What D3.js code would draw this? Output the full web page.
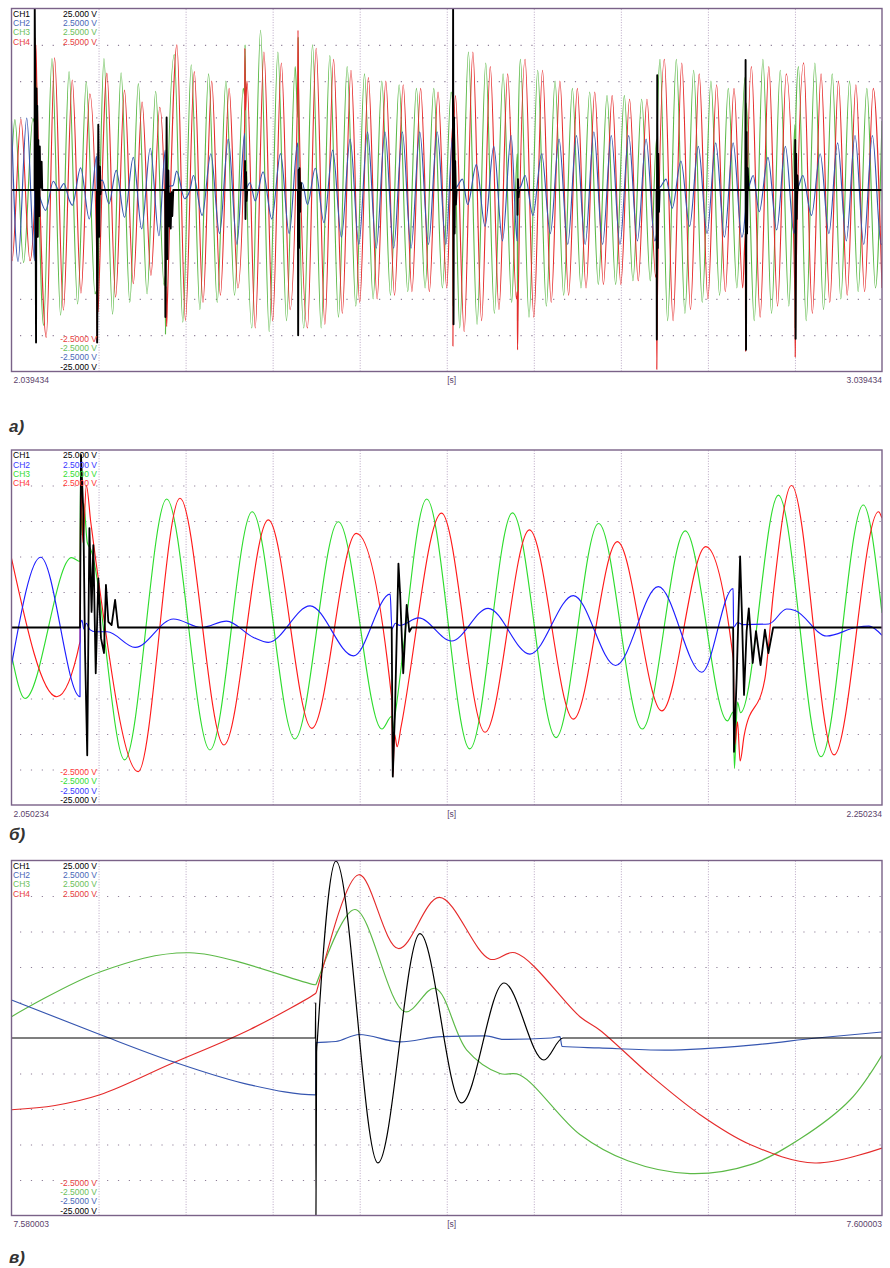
<!DOCTYPE html>
<html>
<head>
<meta charset="utf-8">
<script src="https://cdn.jsdelivr.net/npm/d3@7"></script>
<style>
  body { margin: 0; background: #fff; }
  svg { display: block; }
  text { font-family: "Liberation Sans", Arial, sans-serif; }
</style>
</head>
<body>
<svg id="chart" width="890" height="1268"></svg>
<script>
// ---- labels ----
const startLabels = ["2.039434", "2.050234", "7.580003"];
const endLabels = ["3.039434", "2.250234", "7.600003"];
const spansMs = [1000, 200, 20];
const panelLetters = ["\u0430)", "\u0431)", "\u0432)"];
const chNames = ["CH1", "CH2", "CH3", "CH4"];
const topScale = ["25.000 V", "2.5000 V", "2.5000 V", "2.5000 V"];
const bottomScale = ["-2.5000 V", "-2.5000 V", "-2.5000 V", "-25.000 V"]; // CH4, CH3, CH2, CH1

// ---- panel a: 2.039434 .. 3.039434 s, [ms from start, V] ----
const a_ch1 = [[0,0],[26.5,0],[26.7,25],[27.2,16.3],[27.7,-3.4],[28.2,-21],[28.7,14],[29.2,2.2],[29.6,11.6],[30.2,-6.45],[30.8,6.9],[31.4,-1.5],[32.1,-3.6],[32.5,6],[33.1,0.8],[33.8,0.35],[34.6,3.9],[35.3,0],
  [98.1,0],[98.4,-21],[98.9,-11.9],[99.7,9],[100.1,4.6],[100.8,-6.45],[101.6,3.2],[102.2,-0.6],[102.8,0],
  [176.6,0],[176.8,-17.5],[177.4,-7.2],[178.2,10],[178.6,2.2],[179.1,-9.5],[179.7,-0.5],[180.2,2.7],[181.1,-5],[181.9,-0.5],[182.9,-5.3],[183.9,-0.3],[184.7,-3.6],[185.8,0],
  [268,0],[268.3,4],[268.8,-4],[269.4,2.5],[270,-1.5],[270.8,0],
  [329,0],[329.3,-20],[329.8,2.75],[330.3,-8],[330.9,3],[331.6,-3],[332.4,1],[333.2,0],
  [507,0],[507.3,25],[507.8,-18.5],[508.4,10],[509,-6],[509.7,4],[510.5,-2],[511.4,0],
  [581,0],[581.3,-3.4],[581.8,1.5],[582.5,-1],[583.2,0],
  [741,0],[741.3,-20.6],[741.8,15.8],[742.4,-8],[743,5],[743.8,-3],[744.6,0],
  [843,0],[843.3,17.9],[843.8,-22],[844.4,8],[845,-6],[845.8,3],[846.6,0],
  [900,0],[900.3,6.9],[900.8,-20.5],[901.4,5],[902,-4],[902.8,2],[903.6,0],[1000,0]];
const a_ch2 = [[0,0.95],[7.5,-0.985],[17.5,0.99],[26.5,-0.975],[26.6,0.04],[27.5,0],[30,-0.03],[39.2,-0.28],[48,0.12],[54.5,0],[60.2,0.09],[66.4,-0.14],[69.8,-0.21],[79.4,0.305],[89.4,-0.4],[97.8,0.47],[98.2,-0.02],[100,0.06],[104.3,0.135],[111.9,-0.19],[120.3,0.27],[129.9,-0.375],[139.9,0.45],[149.6,-0.535],[159.4,0.575],[169.4,-0.63],[176.6,0.55],[176.7,0],[180,0.05],[185.5,0.06],[189.7,0.26],[198.9,-0.12],[205,0],
  [209,0.2],[219,-0.35],[229,0.5],[239,-0.6],[249,0.7],[259,-0.75],[267.9,0.78],[268.2,0],[274,0.1],[280,-0.15],[289,0.25],[299,-0.4],[309,0.5],[319,-0.6],[328.8,0.65],[329.2,0],[334,0.1],[340,-0.2],[349,0.3],[359,-0.45],[369,0.55],[379,-0.65],[389,0.7],[399,-0.75],[409,0.8],[419,-0.8],[429,0.8],[439,-0.8],[449,0.8],[459,-0.8],[469,0.8],[479,-0.75],[489,0.8],[499,-0.75],[506.8,0.75],[507.2,0],[512,0.05],[518,0.15],[524,-0.2],[534,0.35],[544,-0.5],[554,0.6],[564,-0.7],[574,0.75],[580.8,-0.7],[581.2,0],[585,0.05],[590,0.2],[599,-0.35],[609,0.5],[619,-0.6],[629,0.7],[639,-0.75],[649,0.75],[659,-0.75],[669,0.8],[679,-0.75],[689,0.75],[699,-0.75],[709,0.75],[719,-0.7],[729,0.7],[739,-0.7],[741.1,-0.6],[741.3,0],[746,0.05],[752,0.15],[759,-0.25],[769,0.4],[779,-0.5],[789,0.6],[799,-0.6],[809,0.65],[819,-0.65],[829,0.65],[839,-0.65],[842.9,-0.3],[843.2,0],[847,0.05],[852,0.2],[859,-0.3],[869,0.45],[879,-0.55],[889,0.6],[899,-0.6],[900.1,-0.5],[900.3,0],[904,0.05],[909,0.2],[919,-0.35],[929,0.5],[939,-0.6],[949,0.65],[959,-0.7],[969,0.75],[979,-0.75],[989,0.75],[999,-0.75],[1000,-0.74]];
const a_ch3 = [[0,0.33],[3.9,0.97],[13.9,-1.0],[24.6,0.985],[26.5,0.93],[26.7,2.1],[27.4,1.3],[28,1.75],[29.2,1.1],[36.8,-1.865],[46.5,1.81],[56.4,-1.725],[66.1,1.63],[75.9,-1.57],[85.9,1.49],[95.9,-1.43],[98.1,-1.38],[98.4,-1.5],[99,-1.3],[106.2,1.81],[116.1,-1.71],[125.9,1.615],[135.9,-1.55],[145.7,1.465],[155.7,-1.43],[165.6,1.36],[175.3,-1.315],[176.6,-1.19],[176.9,-1.985],[177.6,-1.05],
  [187,1.865],[196.8,-1.82],[206.5,1.725],[216.4,-1.65],[226.4,1.6],[236.3,-1.55],[246.3,1.5],[256.2,-1.45],[266.2,1.4],[268,1.3],[268.3,2.0],[269,1.2],[276.1,-1.9],[286.1,2.2],[296,-1.95],[306,1.9],[315.9,-1.8],[325.9,1.7],[329,1.0],[329.3,2.1],[330,0.6],[335.8,-1.9],[345.8,2.0],[355.7,-1.9],[365.7,1.85],[375.6,-1.75],[385.6,1.7],[395.5,-1.6],[405.5,1.6],[415.4,-1.5],[425.4,1.5],[435.3,-1.45],[445.3,1.45],[455.2,-1.4],[465.2,1.4],[475.1,-1.35],[485.1,1.4],[495,-1.35],[505,1.35],[507,1.2],[507.3,-1.6],[508,1.0],[514.9,-1.9],[524.9,1.9],[534.8,-1.85],[544.8,1.75],[554.7,-1.7],[564.7,1.6],[574.6,-1.55],[581,0.5],[581.3,-1.8],[582,0.7],[584.6,1.8],[594.5,-1.75],[604.5,1.65],[614.4,-1.6],[624.4,1.5],[634.3,-1.45],[644.3,1.4],[654.2,-1.35],[664.2,1.35],[674.1,-1.3],[684.1,1.3],[694,-1.3],[704,1.3],[713.9,-1.25],[723.9,1.25],[733.8,-1.25],[741,0.7],[741.3,-2.0],[742,0.9],[745,1.8],[753.7,-1.8],[763.7,1.8],[773.6,-1.7],[783.6,1.65],[793.5,-1.55],[803.5,1.5],[813.4,-1.45],[823.4,1.4],[833.3,-1.35],[842.5,1.55],[843,1.5],[843.3,-1.9],[844,1.2],[853.2,-1.8],[863.2,1.8],[873.1,-1.7],[883.1,1.65],[893,-1.6],[900,0.9],[900.3,-1.9],[901,1.0],[904,1.7],[912.9,-1.8],[922.9,1.75],[932.8,-1.65],[942.8,1.6],[952.7,-1.5],[962.7,1.5],[972.6,-1.4],[982.6,1.4],[992.5,-1.35],[1000,0.95]];
const a_ch4 = [[0,-0.96],[0.6,-0.975],[10.8,0.975],[21.2,-0.975],[26.5,-0.2],[26.7,2.1],[27.2,1.2],[28,2.0],[29,1.49],[30.2,0.93],[39.9,-2.03],[49.5,1.82],[59.6,-1.655],[69.8,1.515],[79.8,-1.42],[90,1.325],[98.1,-1.0],[98.4,-2.1],[98.8,-1.5],[99.4,-1.68],[100.3,-1.4],[109.6,1.61],[119.6,-1.475],[129.8,1.375],[139.9,-1.29],[150,1.21],[160.2,-1.175],[170.3,1.14],[176.6,-0.43],[177,-1.65],[177.6,-1.33],[178.2,-1.88],[179.1,-1.53],
  [190,2.0],[199.8,-1.795],[210,1.63],[220,-1.55],[230,1.5],[240,-1.45],[250,1.4],[260,-1.35],[267.8,0.9],[268.1,1.95],[268.8,1.1],[270.5,1.5],[280,-1.9],[290,1.9],[300,-1.8],[310,1.75],[320,-1.65],[328.8,1.5],[329.1,2.2],[329.8,1.4],[340,-1.9],[350,1.95],[360,-1.85],[370,1.8],[380,-1.7],[390,1.65],[400,-1.55],[410,1.55],[420,-1.5],[430,1.5],[440,-1.45],[450,1.45],[460,-1.4],[470,1.4],[480,-1.4],[490,1.35],[500,-1.35],[506.8,0.9],[507.1,-2.15],[507.8,0.5],[510,1.3],[520,-1.95],[530,1.9],[540,-1.8],[550,1.7],[560,-1.65],[570,1.6],[580,-1.5],[581,-1.4],[581.3,-2.2],[582,-1.6],[590,1.8],[600,-1.75],[610,1.65],[620,-1.55],[630,1.5],[640,-1.45],[650,1.4],[660,-1.35],[670,1.35],[680,-1.3],[690,1.3],[700,-1.3],[710,1.25],[720,-1.25],[730,1.25],[740,-1.2],[741,-1.15],[741.3,-2.47],[742,-1.5],[750,1.8],[760,-1.8],[770,1.75],[780,-1.65],[790,1.6],[800,-1.5],[810,1.45],[820,-1.4],[830,1.4],[840,-1.35],[843,-0.6],[843.3,-2.22],[844,-1.0],[850,1.7],[860,-1.75],[870,1.7],[880,-1.6],[890,1.6],[900,-1.5],[900.3,-2.3],[901,-1.4],[910,1.75],[920,-1.7],[930,1.6],[940,-1.55],[950,1.5],[960,-1.45],[970,1.45],[980,-1.4],[990,1.4],[1000,-1.35]];

// ---- panel b: 2.050234 .. 2.250234 s ----
const b_ch1 = [[0,0],[15.74,0],[15.97,24.3],[16.5,16.3],[16.9,-3.4],[17.4,-18],[17.9,14],[18.4,2.2],[18.8,11.6],[19.35,-6.45],[19.95,6.9],[20.56,-1.5],[21.25,-3.6],[21.7,6],[22.25,0.8],[23,0.35],[23.8,3.9],[24.5,0],
  [87.35,0],[87.6,-21],[88.1,-11.9],[88.9,9],[89.3,4.6],[90,-6.45],[90.8,3.2],[91.4,-0.6],[91.95,0],
  [165.8,0],[166,-17.5],[166.6,-7.2],[167.4,10],[167.8,2.2],[168.3,-9.5],[168.9,-0.5],[169.4,2.7],[170.3,-5],[171.05,-0.5],[172.1,-5.3],[173.1,-0.3],[173.9,-3.6],[175,0],[200,0]];
const b_ch2 = [[0,-0.53],[6.7,0.99],[15.74,-0.975],[15.78,0.04],[16.2,0.1],[16.6,-0.02],[17.2,0.06],[18,-0.03],[19.3,-0.06],[22,-0.06],[28.4,-0.28],[37.2,0.12],[43.7,0],[49.4,0.09],[55.6,-0.14],[59,-0.21],[68.6,0.305],[78.6,-0.4],[87,0.47],[87.4,-0.02],[88.2,0.06],[89.2,0.03],[93.5,0.135],[101.1,-0.19],[109.5,0.27],[119.1,-0.375],[129.1,0.45],[138.8,-0.535],[148.6,0.575],[158.6,-0.63],[165.8,0.55],[165.9,0],[166.8,0.07],[168,0.04],[174,0.05],[178.1,0.26],[180,0.24],[187.3,-0.12],[194,0],[197,0.02],[200,-0.11]];
const b_ch3 = [[0,-0.385],[3.1,-1.0],[13.8,0.985],[15.74,0.93],[15.85,2.1],[16.2,1.3],[16.6,1.75],[17.4,1.2],[18.2,1.1],[26,-1.865],[35.66,1.81],[45.6,-1.725],[55.3,1.63],[65.1,-1.57],[75.1,1.49],[85.1,-1.43],[87.35,-1.25],[87.6,-1.45],[88.2,-1.2],[95.4,1.81],[105.3,-1.71],[115.1,1.615],[125.1,-1.55],[134.9,1.465],[144.9,-1.43],[154.8,1.36],[164.5,-1.315],[165.8,-1.19],[166.1,-1.985],[166.8,-1.05],[167.5,-1.2],[176.2,1.865],[186,-1.82],[195.7,1.725],[200,0.205]];
const b_ch4 = [[0,0.975],[10.4,-0.975],[15.74,-0.2],[15.9,2.1],[16.4,1.2],[17.2,2.0],[18.2,1.49],[19.4,0.93],[29.1,-2.03],[38.7,1.82],[48.8,-1.655],[59,1.515],[69,-1.42],[79.2,1.325],[87.35,-1.0],[87.6,-2.1],[88,-1.5],[88.6,-1.68],[89.5,-1.4],[98.8,1.61],[108.8,-1.475],[119,1.375],[129.1,-1.29],[139.2,1.21],[149.4,-1.175],[159.5,1.14],[165.8,-0.43],[166.2,-1.65],[166.8,-1.33],[167.4,-1.88],[168.3,-1.53],[173.1,-0.72],[175,0.46],[179.2,2.0],[189,-1.795],[199.2,1.63],[200,1.54]];

// ---- panel c: 7.580003 .. 7.600003 s ----
const c_ch1 = [[0,0],[6.98,0],[6.99,5],[6.995,-25],[7.01,-2],[7.03,0],[7.455,24.9],[8.42,-17.6],[9.385,14.7],[10.34,-9.15],[11.315,7.75],[12.234,-3.1],[12.67,0],[20,0]];
const c_ch2 = [[0,0.535],[2.03,0.05],[3.74,-0.34],[5.48,-0.66],[6.99,-0.8],[7.0,-0.065],[7.45,-0.05],[7.99,0.05],[8.92,-0.055],[9.88,0.02],[10.9,0.03],[11.3,-0.02],[12.4,0],[12.6,0.02],[12.65,-0.12],[13.5,-0.14],[15,-0.17],[17,-0.1],[18.5,0],[20,0.085]];
const c_ch3 = [[0,0.3],[2.03,0.93],[4.1,1.2],[6.99,0.75],[7.0,0.76],[7.89,1.81],[9.04,0.37],[9.73,0.7],[10.46,-0.17],[11.22,-0.5],[11.68,-0.52],[13.06,-1.36],[14.16,-1.73],[15.59,-1.91],[17,-1.78],[18.12,-1.42],[19.27,-0.87],[20,-0.24]];
const c_ch4 = [[0,-1.01],[1.0,-0.95],[2.03,-0.8],[3.64,-0.37],[5.48,0.12],[6.99,0.63],[7.0,0.64],[7.98,2.3],[8.89,1.26],[9.83,1.98],[10.99,1.11],[11.57,1.2],[13.06,0.3],[13.52,0.11],[14.67,-0.52],[15.82,-1.08],[16.97,-1.5],[18.46,-1.76],[20,-1.55]];

const panelData = [[a_ch1, a_ch2, a_ch3, a_ch4], [b_ch1, b_ch2, b_ch3, b_ch4], [c_ch1, c_ch2, c_ch3, c_ch4]];

// ---- look ----
const L = 11.5, R = 882;
const panelTops = [8.5, 450, 860.5];
const panelBottoms = [371.5, 805, 1215.5];
const letterY = [432, 840, 1263];
const softColors = ["#000000", "#3656b0", "#5cb947", "#e52b2b"];
const brightColors = ["#000000", "#1e1eff", "#2edc2e", "#ff1a1a"];
const softLabel = ["#000000", "#4a68b8", "#6cc05a", "#e84040"];
const brightLabel = ["#000000", "#3838ff", "#33dd33", "#ff3838"];
const blackWidth = [1.9, 1.8, 1.2];
const frameColor = "#7a6288";
const textColor = "#5b3f6b";

const svg = d3.select("#chart");

function drawPanel(i) {
    let top = panelTops[i], bottom = panelBottoms[i];
    let traceColors = i == 1 ? brightColors : softColors;
    let labelColors = i == 1 ? brightLabel : softLabel;

    let x = d3.scaleLinear().domain([0, spansMs[i]]).range([L, R]);
    let yV = d3.scaleLinear().domain([-2.5, 2.5]).range([bottom, top]);
    let y1 = d3.scaleLinear().domain([-25, 25]).range([bottom, top]);

    let g = svg.append("g");

    g.append("clipPath").attr("id", "clip" + i)
        .append("rect")
        .attr("x", L).attr("y", top)
        .attr("width", R - L).attr("height", bottom - top);

    //Vertical grid, one line per division
    g.append("g")
        .attr("transform", "translate(0," + bottom + ")")
        .call(d3.axisBottom(x)
            .tickValues(d3.range(1, 10).map(k => spansMs[i] * k / 10))
            .tickSize(-(bottom - top))
            .tickFormat(""))
        .call(a => a.select(".domain").remove())
        .selectAll("line")
        .attr("stroke", "#b9a6c3")
        .attr("stroke-dasharray", "1,1.6");

    //Horizontal grid
    g.append("g")
        .attr("transform", "translate(" + L + ",0)")
        .call(d3.axisLeft(yV)
            .tickValues([-2, -1.5, -1, -0.5, 0.5, 1, 1.5, 2])
            .tickSize(-(R - L))
            .tickFormat(""))
        .call(a => a.select(".domain").remove())
        .selectAll("line")
        .attr("stroke", "#8f7f98")
        .attr("stroke-width", 1.2)
        .attr("stroke-dasharray", "1.2,9.68")
        .attr("stroke-dashoffset", -8.5);

    //Traces: CH3, CH4, CH2, then CH1 on top
    [2, 3, 1, 0].forEach((c) => {
        let ys = c == 0 ? y1 : yV;
        let curve;
        if (c == 0 && i < 2) curve = d3.curveLinear;
        else if (i == 2 && c >= 2) curve = d3.curveCatmullRom.alpha(0.5);
        else curve = d3.curveMonotoneX;

        let lineGen = d3.line()
            .x(d => x(d[0]))
            .y(d => ys(d[1]))
            .curve(curve);

        g.append("path")
            .datum(panelData[i][c])
            .attr("d", lineGen)
            .attr("fill", "none")
            .attr("stroke", traceColors[c])
            .attr("stroke-width", c == 0 ? blackWidth[i] : 1.15)
            .attr("stroke-linejoin", "round")
            .attr("clip-path", "url(#clip" + i + ")");
    });

    //Frame
    g.append("rect")
        .attr("x", L).attr("y", top)
        .attr("width", R - L).attr("height", bottom - top)
        .attr("fill", "none")
        .attr("stroke", frameColor)
        .attr("stroke-width", 1.4);

    //Channel names and scale labels
    chNames.forEach((name, k) => {
        g.append("text")
            .attr("x", L + 1.5)
            .attr("y", top + 8.3 + k * 9.3)
            .attr("font-size", "8.5px")
            .attr("fill", labelColors[k])
            .text(name);
        g.append("text")
            .attr("x", 97)
            .attr("y", top + 8.3 + k * 9.3)
            .attr("text-anchor", "end")
            .attr("font-size", "8.5px")
            .attr("fill", labelColors[k])
            .text(topScale[k]);
    });
    bottomScale.forEach((txt, k) => {
        let ch = 3 - k;
        g.append("text")
            .attr("x", 97)
            .attr("y", bottom - 2 - (3 - k) * 9.3)
            .attr("text-anchor", "end")
            .attr("font-size", "8.5px")
            .attr("fill", labelColors[ch])
            .text(txt);
    });

    //Time labels under the frame
    g.append("text")
        .attr("x", L + 2)
        .attr("y", bottom + 11.5)
        .attr("font-size", "8.5px")
        .attr("fill", textColor)
        .text(startLabels[i]);
    g.append("text")
        .attr("x", (L + R) / 2 + 5)
        .attr("y", bottom + 11.5)
        .attr("text-anchor", "middle")
        .attr("font-size", "8.5px")
        .attr("fill", textColor)
        .text("[s]");
    g.append("text")
        .attr("x", R)
        .attr("y", bottom + 11.5)
        .attr("text-anchor", "end")
        .attr("font-size", "8.5px")
        .attr("fill", textColor)
        .text(endLabels[i]);

    //Panel letter
    svg.append("text")
        .attr("x", 9)
        .attr("y", letterY[i])
        .attr("font-family", "'Open Sans', 'DejaVu Sans', sans-serif")
        .attr("font-weight", "bold")
        .attr("font-style", "italic")
        .attr("font-size", "17px")
        .attr("fill", "#333")
        .text(panelLetters[i]);
}

[0, 1, 2].forEach(drawPanel);
</script>
</body>
</html>
